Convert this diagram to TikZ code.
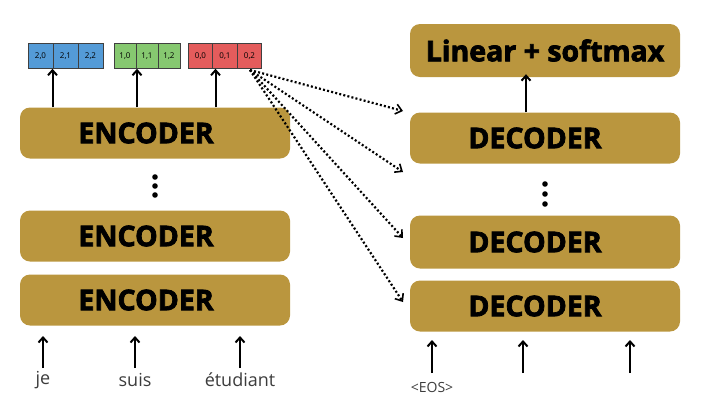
\documentclass[tikz,border=0pt]{standalone}
\usepackage{fontspec}
\setmainfont{Open Sans}
\newfontfamily\heavyfont[FakeBold=2.6]{Open Sans Bold}
\usetikzlibrary{arrows.meta}
\definecolor{gold}{RGB}{186,150,62}
\definecolor{cblue}{RGB}{84,155,215}
\definecolor{cgreen}{RGB}{134,200,112}
\definecolor{cred}{RGB}{228,92,92}
\definecolor{lbl}{RGB}{60,60,60}
\begin{document}
\begin{tikzpicture}[x=1pt,y=-1pt,
  blk/.style={fill=gold,rounded corners=10pt,minimum width=270pt,minimum height=51pt,inner sep=0pt},
  btxt/.style={font=\heavyfont\fontsize{28.5}{28.5}\selectfont,inner sep=0pt},
  cell/.style={draw=black!75,line width=0.6pt,minimum width=25pt,minimum height=25pt,inner sep=0pt,font=\fontsize{8}{8}\selectfont},
  up/.style={line width=2pt,-{Straight Barb[length=5pt,width=9pt,line width=2pt]}},
  dotarr/.style={line width=2.2pt,dash pattern=on 2pt off 2.2pt,-{Straight Barb[length=6pt,width=10pt,line width=1.6pt]}},
  word/.style={font=\fontsize{18}{18}\selectfont,text=lbl,inner sep=1pt}]
\useasboundingbox (0,0) rectangle (720,405);
% encoder side
\node[blk] (e1) at (155,133) {};
\node[blk] (e2) at (155,236) {};
\node[blk] (e3) at (155,300) {};
\node[btxt] (e1t) at (146,133) {ENCODER};
\node[btxt] (e2t) at (146,236) {ENCODER};
\node[btxt] (e3t) at (146,300) {ENCODER};
\foreach \y in {177,186,195} \fill (155,\y) circle (2.8pt);
% vectors
\foreach \t [count=\i from 0] in {2{,}0,2{,}1,2{,}2}
  \node[cell,fill=cblue] (b\i) at (40.5+25*\i,56) {\t};
\foreach \t [count=\i from 0] in {1{,}0,1{,}1,1{,}2}
  \node[cell,fill=cgreen,minimum width=22pt] (g\i) at (125+22*\i,56) {\t};
\foreach \t [count=\i from 0] in {0{,}0,0{,}1,0{,}2}
  \node[cell,fill=cred,minimum width=24.5pt] (r\i) at (200.5+24.5*\i,56) {\t};
\draw[up] (e1.north -| b0.south) ++(12,0) coordinate (a1) -- (a1 |- b0.south);
\draw[up] (e1.north -| g0.south) ++(12,0) coordinate (a2) -- (a2 |- g0.south);
\draw[up] (e1.north -| r0.south) ++(15,0) coordinate (a3) -- (a3 |- r0.south);
% input words
\node[word] (w1) at (43,380) {je};
\node[word] (w2) at (135,380) {suis};
\node[word] (w3) at (240,380) {étudiant};
\draw[up] (w1.north |- 0,368) -- (w1.north |- 0,336);
\draw[up] (w2.north |- 0,368) -- (w2.north |- 0,336);
\draw[up] (w3.north |- 0,368) -- (w3.north |- 0,336);
% decoder side
\node[blk,minimum height=53pt] (lin) at (545,50.5) {};
\node[btxt] (lint) at (545,50.5) {Linear + softmax};
\node[blk] (d1) at (545,138) {};
\node[blk,minimum height=53pt] (d2) at (545,242) {};
\node[blk] (d3) at (545,306) {};
\node[btxt] (d1t) at (535,138) {DECODER};
\node[btxt] (d2t) at (535,242) {DECODER};
\node[btxt] (d3t) at (535,306) {DECODER};
\foreach \y in {184,194,204} \fill (545,\y) circle (2.8pt);
\draw[up] (d1.north -| 526,0) -- (lin.south -| 526,0) ++(0,-3);
\node[font=\fontsize{14}{14}\selectfont,text=lbl,inner sep=1pt] (eos) at (432,387) {<EOS>};
\draw[up] (eos.north |- 0,373) -- (eos.north |- 0,340);
\draw[up] (523,373) -- (523,340);
\draw[up] (630,373) -- (630,340);
% dotted connections
\coordinate (src) at (250,70);
\coordinate (t1) at (403,111);
\coordinate (t2) at (403,172);
\coordinate (t3) at (403,238);
\coordinate (t4) at (403,302);
\foreach \t in {t1,t2,t3,t4} \draw[dotarr] (src) -- (\t);
\end{tikzpicture}
\end{document}
